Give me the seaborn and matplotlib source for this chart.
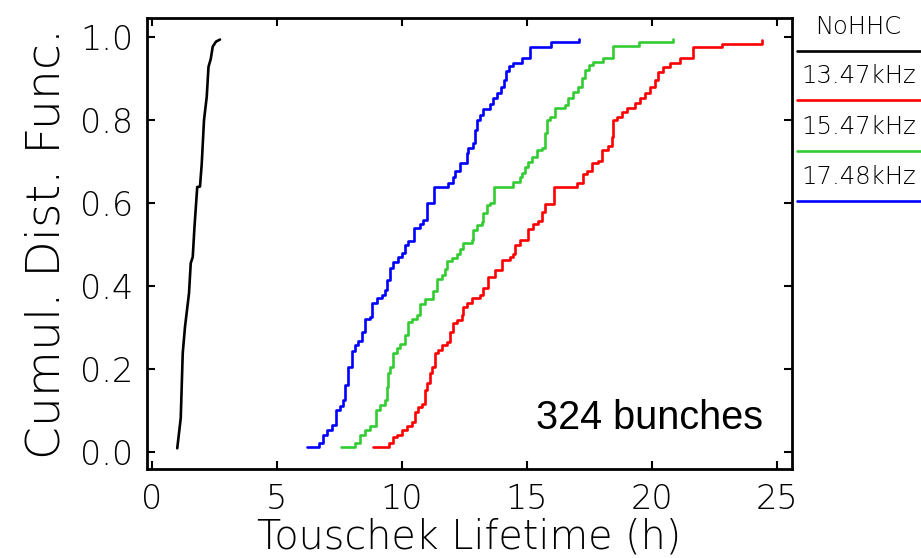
import matplotlib.pyplot as plt
import pandas as pd
import seaborn as sns
from matplotlib.lines import Line2D

# Cumulative distribution of Touschek lifetime, 324 bunches
modes = ["NoHHC", "13.47kHz", "15.47kHz", "17.48kHz"]
colors = ["black", "#ff0000", "#33cc33", "#0000ff"]

nohhc_x = [1.02, 1.16, 1.24, 1.33, 1.49, 1.56, 1.64, 1.71, 1.82, 1.93,
           2.0, 2.09, 2.2, 2.27, 2.36, 2.44, 2.57, 2.73]
nohhc_y = [0.008, 0.081, 0.238, 0.301, 0.382, 0.455, 0.47, 0.543, 0.639, 0.64,
           0.695, 0.8, 0.857, 0.929, 0.948, 0.978, 0.99, 0.995]

khz1347_x = [8.87, 9.5, 9.67, 9.8, 10.0, 10.2, 10.4, 10.53, 10.67, 10.8,
             10.93, 11.0, 11.13, 11.2, 11.33, 11.47, 11.6, 11.8, 11.93, 12.07,
             12.2, 12.4, 12.47, 12.6, 12.8, 13.13, 13.27, 13.47, 13.73, 14.0,
             14.33, 14.47, 14.53, 14.73, 15.07, 15.27, 15.47, 15.6, 15.73, 16.1,
             17.0, 17.27, 17.4, 17.6, 17.87, 18.0, 18.27, 18.4, 18.47, 18.6,
             18.8, 19.0, 19.33, 19.53, 19.73, 19.93, 20.13, 20.27, 20.47, 20.73,
             21.13, 21.67, 22.8, 24.4]
khz1347_y = [0.01, 0.02, 0.036, 0.04, 0.052, 0.062, 0.072, 0.096, 0.108, 0.116,
             0.149, 0.165, 0.189, 0.205, 0.237, 0.245, 0.257, 0.265, 0.29, 0.31,
             0.318, 0.33, 0.35, 0.36, 0.37, 0.378, 0.394, 0.422, 0.438, 0.462,
             0.47, 0.478, 0.498, 0.51, 0.538, 0.549, 0.558, 0.578, 0.598, 0.64,
             0.648, 0.67, 0.678, 0.698, 0.702, 0.729, 0.739, 0.759, 0.80, 0.809,
             0.821, 0.829, 0.841, 0.853, 0.867, 0.881, 0.897, 0.917, 0.929, 0.938,
             0.95, 0.976, 0.984, 0.994]

khz1547_x = [7.56, 8.13, 8.33, 8.53, 8.73, 8.97, 9.13, 9.33, 9.4, 9.47,
             9.53, 9.67, 9.8, 9.93, 10.13, 10.27, 10.4, 10.6, 10.73, 10.93,
             11.27, 11.4, 11.6, 11.73, 11.8, 12.0, 12.2, 12.33, 12.47, 12.8,
             12.87, 13.0, 13.2, 13.27, 13.4, 13.53, 13.69, 14.45, 14.73, 14.8,
             14.93, 15.07, 15.2, 15.4, 15.6, 15.73, 15.8, 15.93, 16.13, 16.53,
             16.67, 16.87, 17.07, 17.2, 17.33, 17.5, 17.67, 18.04, 18.47, 19.5,
             20.87]
khz1547_y = [0.01, 0.02, 0.04, 0.052, 0.062, 0.10, 0.112, 0.125, 0.157, 0.189,
             0.205, 0.237, 0.249, 0.261, 0.281, 0.313, 0.321, 0.329, 0.357, 0.369,
             0.389, 0.418, 0.426, 0.442, 0.46, 0.468, 0.478, 0.49, 0.503, 0.511,
             0.535, 0.547, 0.555, 0.575, 0.595, 0.601, 0.64, 0.651, 0.663, 0.672,
             0.688, 0.70, 0.712, 0.728, 0.733, 0.769, 0.801, 0.809, 0.829, 0.837,
             0.853, 0.869, 0.88, 0.902, 0.922, 0.934, 0.941, 0.95, 0.98, 0.99,
             0.996]

khz1748_x = [6.2, 6.7, 6.86, 7.0, 7.2, 7.37, 7.53, 7.67, 7.73, 7.87,
             8.0, 8.13, 8.27, 8.4, 8.53, 8.73, 8.8, 9.0, 9.2, 9.33,
             9.4, 9.53, 9.67, 9.87, 10.0, 10.13, 10.27, 10.5, 10.73, 10.87,
             11.0, 11.29, 11.87, 12.07, 12.13, 12.33, 12.6, 12.67, 12.87, 12.93,
             13.0, 13.13, 13.27, 13.53, 13.67, 13.8, 13.96, 14.09, 14.17, 14.31,
             14.47, 14.8, 15.13, 15.96, 17.1]
khz1748_y = [0.01, 0.02, 0.04, 0.052, 0.064, 0.10, 0.11, 0.125, 0.161, 0.205,
             0.242, 0.258, 0.266, 0.29, 0.32, 0.326, 0.358, 0.37, 0.378, 0.39,
             0.415, 0.443, 0.459, 0.469, 0.479, 0.50, 0.509, 0.54, 0.55, 0.56,
             0.60, 0.64, 0.648, 0.662, 0.678, 0.696, 0.72, 0.733, 0.745, 0.777,
             0.801, 0.813, 0.827, 0.84, 0.853, 0.865, 0.88, 0.898, 0.918, 0.93,
             0.938, 0.95, 0.978, 0.99, 0.996]

x_ticks = [0, 5, 10, 15, 20, 25]
y_ticks = [0.0, 0.2, 0.4, 0.6, 0.8, 1.0]
y_tick_labels = ["0.0", "0.2", "0.4", "0.6", "0.8", "1.0"]

sns.set_style("ticks", {"axes.edgecolor": "black", "text.color": "black",
                        "axes.labelcolor": "black", "xtick.color": "black",
                        "ytick.color": "black"})
plt.rcParams["font.family"] = ["DejaVu Sans"]

steps = pd.concat([
    pd.DataFrame({"lifetime": khz1347_x, "cdf": khz1347_y, "mode": modes[1]}),
    pd.DataFrame({"lifetime": khz1547_x, "cdf": khz1547_y, "mode": modes[2]}),
    pd.DataFrame({"lifetime": khz1748_x, "cdf": khz1748_y, "mode": modes[3]}),
], ignore_index=True)

fig = plt.figure(figsize=(9.21, 5.58), dpi=100)
ax = fig.add_axes([0.1596, 0.1595, 0.7003, 0.8082])

sns.lineplot(data=steps, x="lifetime", y="cdf", hue="mode",
             palette=dict(zip(modes[1:], colors[1:])), estimator=None,
             sort=False, drawstyle="steps-post", linewidth=1.9,
             legend=False, ax=ax)
sns.lineplot(x=nohhc_x, y=nohhc_y, color=colors[0], estimator=None,
             sort=False, linewidth=1.9, ax=ax)

ax.set_xlim(-0.19, 25.61)
ax.set_ylim(-0.042, 1.047)
ax.set_xticks(x_ticks)
ax.set_yticks(y_ticks)
ax.set_yticklabels(y_tick_labels)
ax.tick_params(direction="in", length=6, width=1.5, top=True, right=True,
               labelsize=24, pad=10, colors="black")
for sp in ax.spines.values():
    sp.set_linewidth(2)
    sp.set_visible(True)
    sp.set_color("black")

ax.set_xlabel("Touschek Lifetime (h)", fontsize=28.5, labelpad=1,
              fontweight="light", color="black")
ax.set_ylabel("Cumul. Dist. Func.", fontsize=34, labelpad=8,
              fontweight="light", color="black")
for lab in ax.get_xticklabels() + ax.get_yticklabels():
    lab.set_fontweight("light")

ax.text(24.45, 0.054, "324 bunches", ha="right", va="baseline",
        fontsize=28.5, family="Liberation Sans", color="black")

# legend to the right of the frame: label on top of a coloured line
leg_line_y = [0.909, 0.821, 0.729, 0.640]
leg_text_y = [0.951, 0.863, 0.773, 0.683]
for name, col, ly, ty in zip(modes, colors, leg_line_y, leg_text_y):
    fig.add_artist(Line2D([0.865, 1.0], [ly, ly], transform=fig.transFigure,
                          color=col, linewidth=1.9))
    fig.text(0.932, ty, name, ha="center", va="center", fontsize=17.5,
             fontweight="light", color="black")

fig.savefig("out.png", dpi=100)
